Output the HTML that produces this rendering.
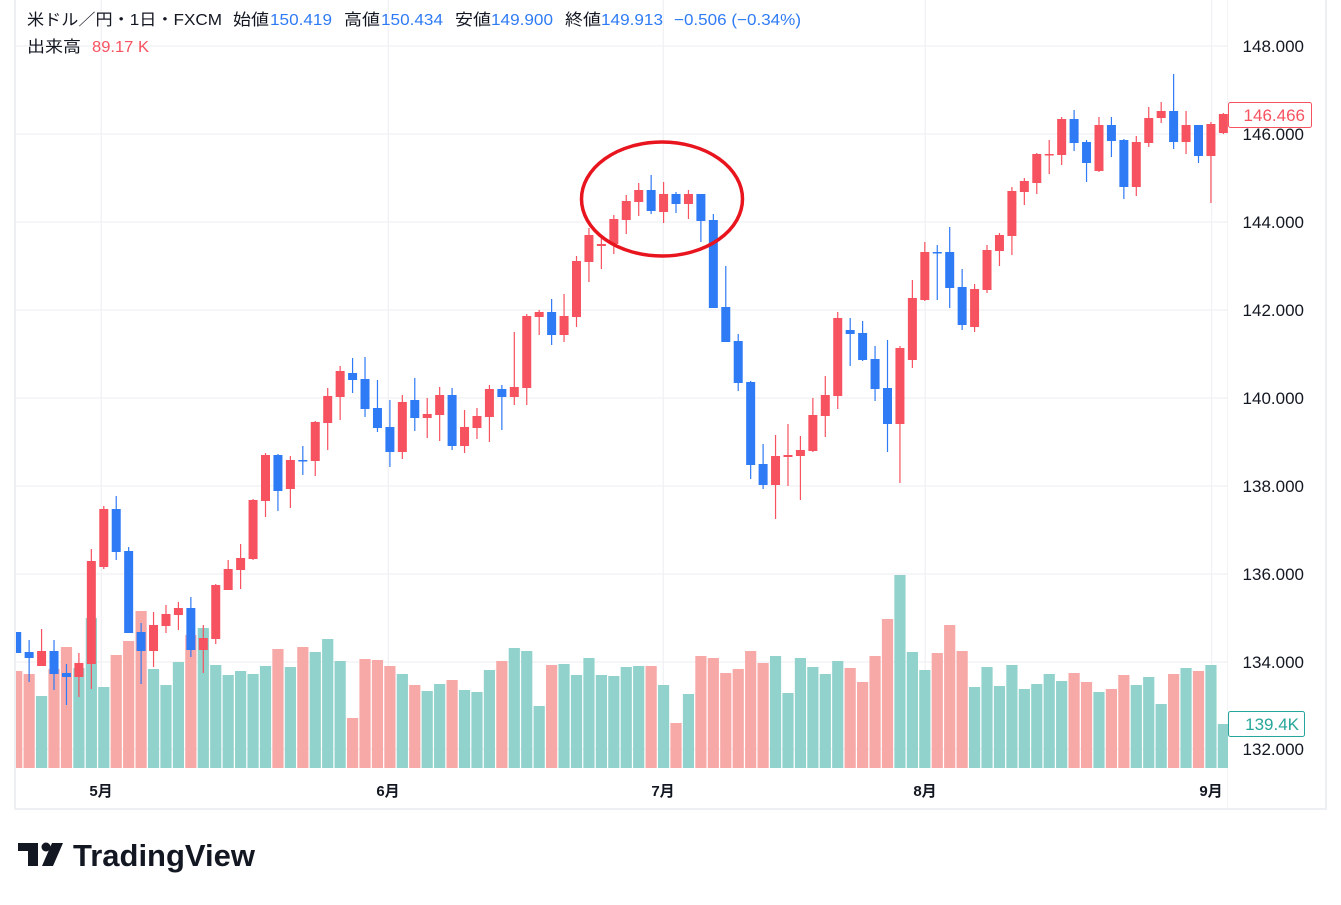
<!DOCTYPE html>
<html><head><meta charset="utf-8">
<style>
html,body{margin:0;padding:0;background:#fff;}
body{width:1341px;height:900px;overflow:hidden;position:relative;font-family:"Liberation Sans","Noto Sans CJK JP",sans-serif;}
svg text{font-family:"Liberation Sans","Noto Sans CJK JP",sans-serif;}
</style></head>
<body>
<svg id="c" width="1341" height="900" xmlns="http://www.w3.org/2000/svg">
<defs><clipPath id="ca"><rect x="16" y="0" width="1212" height="768"/></clipPath></defs>
<rect x="15" y="-2" width="1311" height="811" fill="none" stroke="#eeeff2" stroke-width="2"/>
<line x1="1227.5" y1="0" x2="1227.5" y2="808" stroke="#f3f4f6" stroke-width="1"/>
<g stroke="#f0f1f4" stroke-width="1.2">
<line x1="16" y1="46" x2="1228" y2="46"/><line x1="16" y1="134" x2="1228" y2="134"/>
<line x1="16" y1="222" x2="1228" y2="222"/><line x1="16" y1="310" x2="1228" y2="310"/>
<line x1="16" y1="398" x2="1228" y2="398"/><line x1="16" y1="486" x2="1228" y2="486"/>
<line x1="16" y1="574" x2="1228" y2="574"/><line x1="16" y1="662" x2="1228" y2="662"/>
<line x1="16" y1="749" x2="1228" y2="749"/>
<line x1="101.3" y1="0" x2="101.3" y2="768"/><line x1="388.3" y1="0" x2="388.3" y2="768"/>
<line x1="663.3" y1="0" x2="663.3" y2="768"/><line x1="925.3" y1="0" x2="925.3" y2="768"/>
<line x1="1211.7" y1="0" x2="1211.7" y2="768"/>
</g>
<g id="vol" clip-path="url(#ca)"></g>
<g id="cnd" clip-path="url(#ca)"></g>
<ellipse cx="662" cy="199" rx="80.5" ry="57" fill="none" stroke="#e8141e" stroke-width="3.5"/>
<g font-size="17" fill="#131722" text-anchor="end">
<text x="1304" y="52">148.000</text><text x="1304" y="140">146.000</text>
<text x="1304" y="228">144.000</text><text x="1304" y="316">142.000</text>
<text x="1304" y="404">140.000</text><text x="1304" y="492">138.000</text>
<text x="1304" y="580">136.000</text><text x="1304" y="668">134.000</text>
<text x="1304" y="755">132.000</text>
</g>
<rect x="1228.5" y="102.5" width="83" height="25" rx="2" fill="#fff" stroke="#f7525f" stroke-width="1"/>
<text x="1305" y="121" font-size="17" fill="#f7525f" text-anchor="end">146.466</text>
<rect x="1228.5" y="711.5" width="76" height="25" rx="2" fill="#fff" stroke="#26a69a" stroke-width="1"/>
<text x="1299" y="730" font-size="17" fill="#26a69a" text-anchor="end">139.4K</text>
<g font-size="15" fill="#131722" font-weight="bold" text-anchor="middle">
<text x="101" y="796">5月</text><text x="388" y="796">6月</text><text x="663" y="796">7月</text>
<text x="925" y="796">8月</text><text x="1211" y="796">9月</text>
</g>
<g font-size="16" fill="#131722">
<text x="27" y="25" textLength="195" lengthAdjust="spacingAndGlyphs">米ドル／円・1日・FXCM</text>
<text x="233" y="25" textLength="36" lengthAdjust="spacingAndGlyphs">始値</text>
<text x="270" y="25" fill="#2e7bf5" textLength="62" lengthAdjust="spacingAndGlyphs">150.419</text>
<text x="344" y="25" textLength="36" lengthAdjust="spacingAndGlyphs">高値</text>
<text x="381" y="25" fill="#2e7bf5" textLength="62" lengthAdjust="spacingAndGlyphs">150.434</text>
<text x="455" y="25" textLength="36" lengthAdjust="spacingAndGlyphs">安値</text>
<text x="491" y="25" fill="#2e7bf5" textLength="62" lengthAdjust="spacingAndGlyphs">149.900</text>
<text x="565" y="25" textLength="36" lengthAdjust="spacingAndGlyphs">終値</text>
<text x="601" y="25" fill="#2e7bf5" textLength="62" lengthAdjust="spacingAndGlyphs">149.913</text>
<text x="674" y="25" fill="#2e7bf5" textLength="127" lengthAdjust="spacingAndGlyphs">−0.506 (−0.34%)</text>
<text x="27" y="52" textLength="54" lengthAdjust="spacingAndGlyphs">出来高</text>
<text x="92" y="52" fill="#f7525f" textLength="57" lengthAdjust="spacingAndGlyphs">89.17 K</text>
</g>
<g fill="#131722">
<rect x="18" y="843" width="20" height="8"/><rect x="28" y="843" width="10" height="23"/>
<circle cx="46" cy="847" r="4.5"/>
<polygon points="52,843 63,843 53,866 42,866"/>
</g>
<text x="73" y="866" font-size="31" font-weight="bold" fill="#131722" textLength="182" lengthAdjust="spacingAndGlyphs">TradingView</text>
</svg>
<script>
var D=[[632,632,653,653,0],[640,652,658,682,0],[629,651,666,666,1],[640,651,674,690,0],[664,673,677,705,0],[653,663,677,697,1],[549,561,664,689,1],[506,509,567,569,1],[496,509,552,560,0],[547,551,633,633,0],
[623,632,651,684,0],[612,625,651,667,1],[605,614,626,633,1],[602,608,615,630,1],[597,608,650,657,0],[625,638,650,673,1],[584,585,639,644,1],[560,569,590,590,1],[544,558,570,589,1],[499,500,559,560,1],
[453,455,501,517,1],[454,455,491,511,0],[456,460,489,508,1],[446,460,461,475,0],[421,422,461,476,1],[388,396,423,450,1],[366,371,397,420,1],[358,373,380,393,0],[357,379,409,417,0],[380,408,428,432,0],
[400,427,452,467,0],[395,402,452,459,1],[378,400,418,431,0],[398,414,418,438,1],[387,395,415,441,1],[388,395,446,450,0],[410,427,446,453,1],[408,416,428,439,1],[385,389,417,442,1],[385,389,397,430,0],
[332,387,397,405,1],[314,316,388,405,1],[310,312,317,335,1],[299,312,335,345,0],[294,316,335,342,1],[256,261,317,327,1],[228,235,262,282,1],[235,244,246,269,1],[215,219,244,254,1],[195,201,220,234,1],
[183,190,202,216,1],[175,190,211,214,0],[182,194,212,223,1],[192,194,204,213,0],[190,194,204,219,1],[194,194,221,242,0],[214,220,308,308,0],[266,307,342,342,0],[334,341,383,391,0],[381,382,465,479,0],
[444,464,485,489,0],[435,456,485,519,1],[424,455,457,486,1],[436,450,456,500,1],[398,415,451,452,1],[376,395,416,437,1],[312,318,396,409,1],[318,330,334,366,0],[321,333,360,361,0],[346,359,389,401,0],
[340,388,424,452,0],[346,348,424,483,1],[280,298,360,368,1],[242,252,300,301,1],[245,252,253,300,0],[227,252,288,308,0],[269,287,325,330,0],[284,289,327,332,1],[245,250,290,293,1],[233,235,251,266,1],
[187,191,236,255,1],[178,181,192,205,1],[153,154,183,194,1],[140,154,155,174,1],[117,119,155,165,1],[110,119,143,151,0],[140,142,163,182,0],[117,125,171,172,1],[117,125,141,157,0],[139,140,187,199,0],
[136,142,187,196,1],[107,118,143,147,1],[102,111,118,123,1],[74,111,142,149,0],[111,125,142,154,1],[125,125,156,163,0],[122,124,156,203,1],[113,114,133,134,1]];
var V=[671,674,696,669,647,668,618,687,655,641,611,669,685,662,635,628,665,675,671,674,666,649,667,647,652,639,661,718,659,660,666,674,685,691,684,680,690,692,670,661,648,651,706,665,664,675,658,675,676,667,666,666,685,723,694,656,658,673,669,651,663,656,693,658,667,674,661,668,682,656,619,575,652,670,653,625,651,687,667,686,665,689,684,674,681,673,682,692,689,675,685,677,704,674,668,671,665,724];
var ns="http://www.w3.org/2000/svg",vg=document.getElementById("vol"),cg=document.getElementById("cnd");
function r(g,x,y,w,h,f){var e=document.createElementNS(ns,"rect");e.setAttribute("x",x);e.setAttribute("y",y);e.setAttribute("width",w);e.setAttribute("height",Math.max(h,1.5));e.setAttribute("fill",f);g.appendChild(e);}
for(var i=0;i<D.length;i++){var x=16.7+12.44*i,d=D[i];
r(vg,x-5.6,V[i],11.2,768-V[i],d[4]?"#92d2cc":"#f7a9a7");
var col=d[4]?"#f7525f":"#2f7af5";
r(cg,x-0.6,d[0],1.2,d[3]-d[0],col);
r(cg,x-4.5,d[1],9,d[2]-d[1],col);}
</script>
</body></html>
